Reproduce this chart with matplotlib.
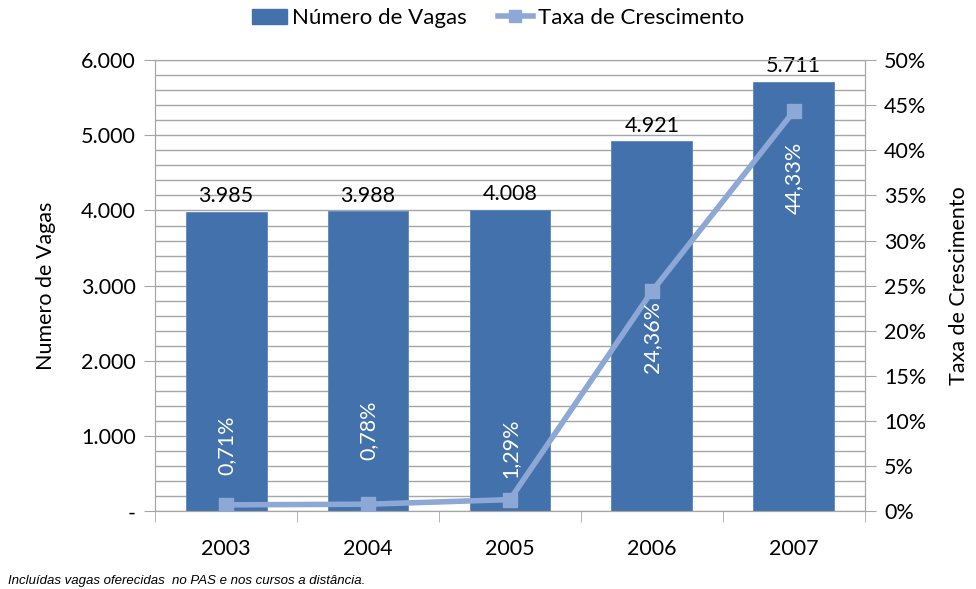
import matplotlib.pyplot as plt
from matplotlib.ticker import MultipleLocator, FuncFormatter
from matplotlib.lines import Line2D
from matplotlib.patches import Patch

anos = ['2003', '2004', '2005', '2006', '2007']
vagas = [3985, 3988, 4008, 4921, 5711]
taxa = [0.71, 0.78, 1.29, 24.36, 44.33]
vagas_lbl = ['3.985', '3.988', '4.008', '4.921', '5.711']
taxa_lbl = ['0,71%', '0,78%', '1,29%', '24,36%', '44,33%']

BAR = '#4271AC'
LINE = '#8EA8D6'
GRID = '#A6A6A6'
plt.rcParams['font.family'] = ['Lato', 'DejaVu Sans']

fig = plt.figure(figsize=(9.76, 5.89), dpi=100)
ax = fig.add_axes([0.159, 0.132, 0.727, 0.766])
ax2 = ax.twinx()

x = list(range(len(anos)))
ax.bar(x, vagas, width=0.57, color=BAR, edgecolor='#5A87BE', linewidth=0.6, zorder=2)
ax.set_xlim(-0.5, 4.5)
ax.set_ylim(0, 6000)
ax.yaxis.set_major_locator(MultipleLocator(1000))
ax.yaxis.set_minor_locator(MultipleLocator(200))
ax.yaxis.set_major_formatter(FuncFormatter(lambda v, p: '-' if v == 0 else f'{int(v):,}'.replace(',', '.')))
ax.grid(True, axis='y', which='both', color=GRID, linewidth=1.0, zorder=0)
ax.set_axisbelow(True)
ax.tick_params(axis='y', which='major', direction='out', length=8, color=GRID, labelsize=15.5, pad=6)
ax.tick_params(axis='y', which='minor', length=0)

ax.set_xticks(x)
ax.set_xticklabels(anos)
ax.set_xticks([-0.5, 0.5, 1.5, 2.5, 3.5, 4.5], minor=True)
ax.tick_params(axis='x', which='major', length=0, labelsize=15.5, pad=20)
ax.tick_params(axis='x', which='minor', direction='out', length=8, color=GRID)
for s in ['left', 'right', 'bottom', 'top']:
    ax.spines[s].set_color(GRID)
    ax2.spines[s].set_color(GRID)
ax.set_ylabel('Numero de Vagas', fontsize=15.5, labelpad=18)

for xi, v, t in zip(x, vagas, vagas_lbl):
    ax.annotate(t, (xi, v), xytext=(0, 4), textcoords='offset points',
                ha='center', va='bottom', fontsize=15.5, color='black')

ax2.plot(x, taxa, color=LINE, linewidth=4, marker='s', markersize=10, zorder=3)
ax2.set_ylim(0, 50)
ax2.yaxis.set_major_locator(MultipleLocator(5))
ax2.yaxis.set_major_formatter(FuncFormatter(lambda v, p: f'{int(v)}%'))
ax2.tick_params(axis='y', direction='out', length=8, color=GRID, labelsize=15.5, pad=6)
ax2.set_ylabel('Taxa de Crescimento', fontsize=15.5, labelpad=16)

# deslocamento vertical (pt) dos rótulos da taxa em relação ao ponto
desloc = [43, 53, 37, -33, -48]
for xi, t, lbl, d in zip(x, taxa, taxa_lbl, desloc):
    ax2.annotate(lbl, (xi, t), xytext=(0, d), textcoords='offset points',
                 ha='center', va='center', rotation=90, fontsize=15.5, color='white', zorder=4)

handles = [Patch(facecolor=BAR, edgecolor=BAR),
           Line2D([0], [0], color=LINE, linewidth=4, marker='s', markersize=9)]
fig.legend(handles, ['Número de Vagas', 'Taxa de Crescimento'], loc='upper center',
           bbox_to_anchor=(0.51, 1.02), ncol=2, frameon=False, fontsize=16,
           handlelength=1.6, handletextpad=0.2, columnspacing=1.4)

fig.text(0.008, 0.008, 'Incluídas vagas oferecidas  no PAS e nos cursos a distância.',
         fontsize=9.5, style='italic', family='Liberation Sans')

fig.savefig('out.png', dpi=100)
